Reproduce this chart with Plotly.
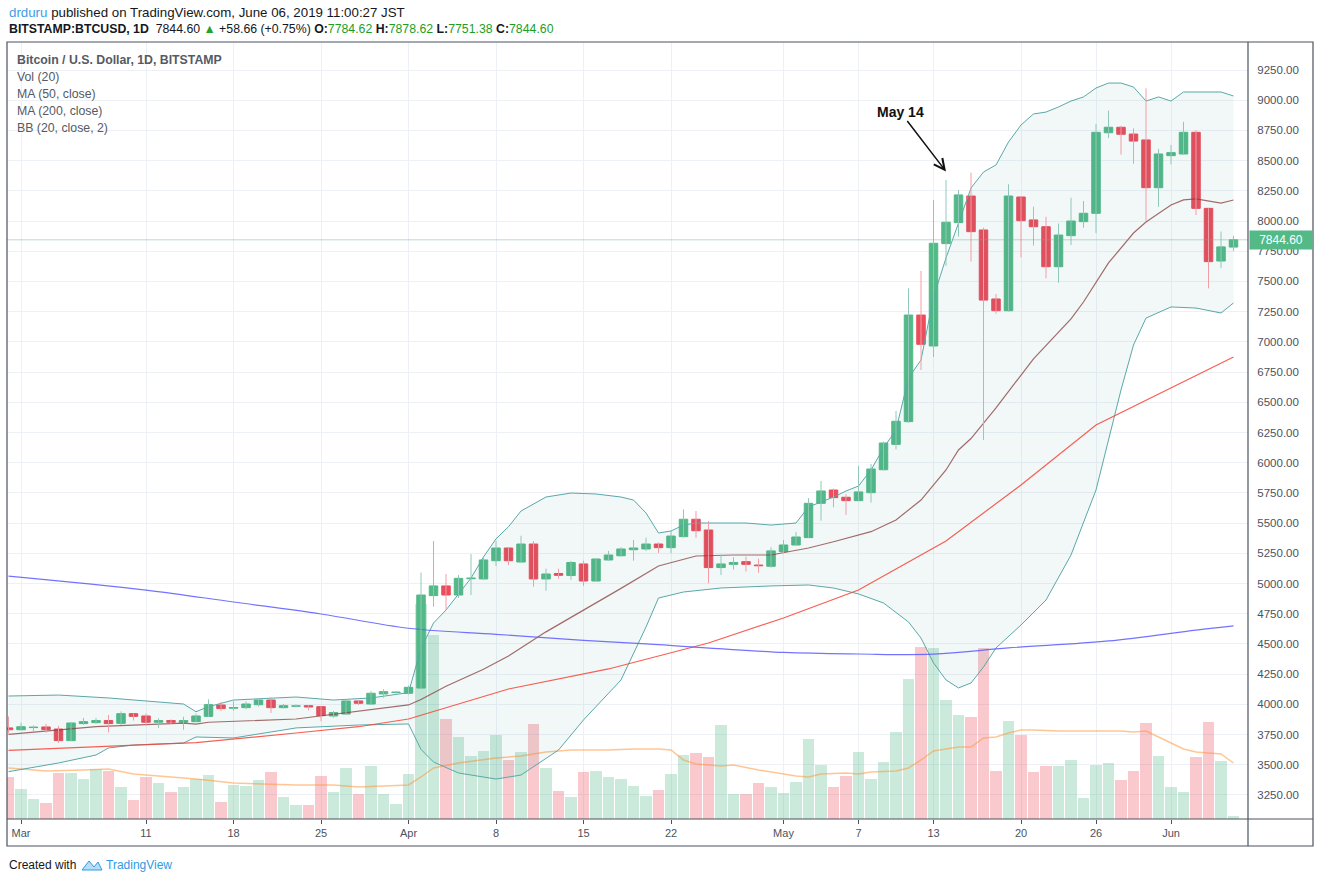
import plotly.graph_objects as go
import pandas as pd

# ---------------- data ----------------
dates = pd.date_range("2019-02-28", "2019-06-06", freq="D")

opens = [3805,
         3790, 3808, 3813, 3796, 3700, 3841, 3849, 3866, 3843, 3923, 3904, 3852, 3866, 3852, 3857, 3901,
         3995, 3968, 3973, 3997, 4036, 3973, 3984, 3989, 3981, 3904, 3920, 4028, 4003, 4086, 4098,
         4092, 4135, 4900, 4980, 4905, 5040, 5038, 5189, 5294, 5178, 5327, 5038, 5083, 5066, 5162,
         5021, 5195, 5230, 5280, 5286, 5327, 5297, 5388, 5532, 5443, 5132, 5159, 5181, 5153, 5143,
         5264, 5319, 5380, 5664, 5774, 5714, 5686, 5752, 5942, 6152, 6340, 7222, 6966, 7813, 7987,
         8207, 7926, 7355, 7258, 8199, 8009, 7953, 7622, 7879, 7995, 8064, 8731, 8776, 8720, 8671, 8276,
         8541, 8555, 8734, 8105, 7669, 7784.62]
highs = [3900,
         3848, 3826, 3838, 3822, 3850, 3888, 3888, 3912, 3942, 3925, 3923, 3885, 3876, 3898, 3923, 4042,
         4022, 4026, 4025, 4050, 4060, 4003, 4000, 3992, 3985, 3945, 4042, 4030, 4110, 4125, 4110,
         4155, 5090, 5352, 5079, 5070, 5244, 5210, 5352, 5300, 5395, 5352, 5123, 5123, 5188, 5188,
         5210, 5270, 5300, 5360, 5380, 5340, 5440, 5613, 5600, 5517, 5240, 5218, 5223, 5205, 5300,
         5360, 5427, 5707, 5849, 5785, 5739, 5973, 5990, 6175, 6428, 7443, 7587, 8174, 8340, 8257,
         8400, 7945, 7396, 8304, 8207, 8119, 8036, 7980, 8193, 8166, 8803, 8914, 8789, 8767, 9098, 8597,
         8629, 8821, 8753, 8105, 7913, 7878.62]
lows = [3760,
        3785, 3775, 3765, 3680, 3695, 3830, 3837, 3767, 3830, 3866, 3825, 3805, 3838, 3790, 3852, 3895,
        3944, 3948, 3960, 3982, 3929, 3965, 3975, 3950, 3860, 3890, 3912, 3995, 3995, 4055, 4080,
        4080, 4130, 4808, 4786, 4880, 4905, 5030, 5145, 5153, 5170, 4974, 4940, 5040, 5030, 4980,
        5015, 5190, 5222, 5189, 5270, 5253, 5250, 5380, 5378, 5002, 5070, 5115, 5100, 5090, 5132,
        5250, 5312, 5378, 5520, 5630, 5568, 5680, 5670, 5935, 6110, 6330, 6767, 6875, 7628, 7871,
        7664, 6188, 7233, 7250, 7700, 7797, 7526, 7489, 7802, 7945, 7899, 8687, 8550, 8474, 8003, 8117,
        8470, 8547, 8050, 7443, 7610, 7751.38]
closes = [3790,
          3815, 3812, 3791, 3700, 3846, 3857, 3866, 3841, 3923, 3901, 3852, 3866, 3852, 3866, 3904, 3998,
          3965, 3974, 4003, 4036, 3973, 3989, 3988, 3978, 3907, 3932, 4028, 4009, 4092, 4105, 4102,
          4141, 4905, 4980, 4905, 5043, 5046, 5195, 5294, 5189, 5327, 5038, 5079, 5068, 5174, 5021,
          5203, 5236, 5286, 5294, 5327, 5297, 5393, 5532, 5437, 5132, 5162, 5174, 5159, 5147, 5270,
          5319, 5385, 5664, 5766, 5711, 5686, 5758, 5948, 6163, 6343, 7222, 6980, 7816, 7990, 8216,
          7912, 7346, 7258, 8207, 8003, 7953, 7622, 7884, 8000, 8064, 8734, 8776, 8718, 8662, 8276, 8555,
          8566, 8734, 8105, 7664, 7785.94, 7844.60]
# volume, thousand BTC (relative scale)
volumes = [6.3,
           4.5, 3.0, 2.4, 6.9, 6.9, 6.0, 7.5, 7.2, 4.8, 2.85, 6.3, 5.4, 4.05, 4.8, 6.0, 6.6,
           2.55, 5.1, 4.95, 5.85, 7.05, 3.3, 2.1, 2.1, 6.45, 4.05, 7.65, 3.75, 7.95, 3.75, 2.25,
           6.75, 32.3, 27.6, 15.0, 12.3, 9.45, 10.2, 12.6, 8.85, 10.05, 14.25, 7.65, 4.2, 3.3, 7.05,
           7.2, 6.3, 6.0, 4.95, 3.45, 4.35, 6.75, 9.6, 9.9, 9.3, 14.1, 3.75, 3.75, 5.4, 4.8,
           3.9, 5.55, 12.0, 8.1, 4.8, 6.45, 10.05, 6.0, 8.55, 13.05, 21.0, 25.8, 25.65, 17.85, 15.6,
           15.3, 25.65, 7.2, 14.7, 12.6, 7.05, 7.95, 7.95, 8.85, 3.15, 8.1, 8.4, 5.85, 7.2, 14.4, 9.45,
           4.8, 4.05, 9.3, 14.55, 8.7, 0.45]

vol_ma_dates = ["2019-02-28", "2019-03-03", "2019-03-06", "2019-03-08", "2019-03-10", "2019-03-13",
                "2019-03-15", "2019-03-18", "2019-03-21", "2019-03-23", "2019-03-26", "2019-03-28",
                "2019-04-01", "2019-04-02", "2019-04-03", "2019-04-05", "2019-04-08", "2019-04-10",
                "2019-04-12", "2019-04-14", "2019-04-17", "2019-04-19", "2019-04-21", "2019-04-22",
                "2019-04-23", "2019-04-24", "2019-04-26", "2019-04-27", "2019-04-29", "2019-04-30",
                "2019-05-02", "2019-05-03", "2019-05-04", "2019-05-06", "2019-05-07", "2019-05-08",
                "2019-05-10", "2019-05-11", "2019-05-12", "2019-05-13", "2019-05-15", "2019-05-16",
                "2019-05-17", "2019-05-18", "2019-05-19", "2019-05-20", "2019-05-21", "2019-05-23",
                "2019-05-26", "2019-05-28", "2019-05-29", "2019-05-30", "2019-05-31", "2019-06-02",
                "2019-06-03", "2019-06-05", "2019-06-06"]
vol_ma = [7.65, 7.2, 7.35, 7.5, 6.75, 6.3, 6.0, 5.4, 5.25, 5.1, 5.1, 4.8,
          5.1, 6.3, 7.65, 8.4, 9.15, 9.45, 10.05, 10.35, 10.35, 10.5, 10.5, 10.35,
          8.85, 8.25, 7.95, 8.1, 7.35, 7.05, 6.45, 6.3, 6.75, 6.9, 6.75, 7.05,
          7.2, 7.65, 8.85, 10.2, 10.8, 10.8, 12.15, 12.3, 12.9, 13.35, 13.35, 13.2,
          13.2, 13.2, 13.05, 13.2, 12.3, 10.5, 10.05, 9.75, 8.4]

ma50_dates = ["2019-02-28", "2019-03-15", "2019-03-23", "2019-03-28", "2019-04-01", "2019-04-09",
              "2019-04-17", "2019-04-25", "2019-05-01", "2019-05-07", "2019-05-14", "2019-05-20",
              "2019-05-26", "2019-06-01", "2019-06-06"]
ma50 = [3620, 3683, 3763, 3815, 3879, 4127, 4293, 4508, 4715, 4946, 5352, 5816, 6312, 6618, 6875]

ma200_dates = ["2019-02-28", "2019-03-11", "2019-03-18", "2019-03-25", "2019-04-01", "2019-04-08",
               "2019-04-15", "2019-04-20", "2019-05-01", "2019-05-07", "2019-05-13", "2019-05-19",
               "2019-05-27", "2019-06-03", "2019-06-06"]
ma200 = [5062, 4946, 4847, 4748, 4630, 4580, 4530, 4500, 4430, 4417, 4415, 4467, 4525, 4615, 4650]

bb_mid_dates = ["2019-02-28", "2019-03-07", "2019-03-14", "2019-03-15", "2019-03-16", "2019-03-23",
                "2019-04-01", "2019-04-02", "2019-04-04", "2019-04-07", "2019-04-09", "2019-04-12",
                "2019-04-18", "2019-04-21", "2019-04-24", "2019-04-27", "2019-04-30", "2019-05-03",
                "2019-05-05", "2019-05-08", "2019-05-10", "2019-05-12", "2019-05-14", "2019-05-15",
                "2019-05-16", "2019-05-18", "2019-05-21", "2019-05-24", "2019-05-25", "2019-05-27",
                "2019-05-29", "2019-05-30", "2019-06-01", "2019-06-02", "2019-06-03", "2019-06-05",
                "2019-06-06"]
bb_mid = [3752, 3815, 3845, 3836, 3852, 3879, 3995, 4040, 4150, 4290, 4400, 4600, 4960, 5145,
          5228, 5236, 5236, 5294, 5346, 5429, 5526, 5691, 5940, 6105, 6200, 6453, 6860, 7190,
          7330, 7653, 7901, 7992, 8133, 8175, 8183, 8149, 8174]

bb_up_dates = ["2019-02-28", "2019-03-04", "2019-03-08", "2019-03-14", "2019-03-15", "2019-03-16",
               "2019-03-18", "2019-03-23", "2019-03-26", "2019-03-29", "2019-04-01", "2019-04-02",
               "2019-04-03", "2019-04-04", "2019-04-06", "2019-04-07", "2019-04-08", "2019-04-09",
               "2019-04-10", "2019-04-12", "2019-04-14", "2019-04-16", "2019-04-18", "2019-04-19",
               "2019-04-20", "2019-04-21", "2019-04-22", "2019-04-23", "2019-04-24", "2019-04-28",
               "2019-04-30", "2019-05-02", "2019-05-03", "2019-05-04", "2019-05-05", "2019-05-06",
               "2019-05-07", "2019-05-08", "2019-05-09", "2019-05-10", "2019-05-11", "2019-05-12",
               "2019-05-13", "2019-05-14", "2019-05-15", "2019-05-16", "2019-05-17", "2019-05-18",
               "2019-05-19", "2019-05-20", "2019-05-21", "2019-05-22", "2019-05-23", "2019-05-24",
               "2019-05-25", "2019-05-26", "2019-05-27", "2019-05-28", "2019-05-29", "2019-05-30",
               "2019-05-31", "2019-06-01", "2019-06-02", "2019-06-05", "2019-06-06"]
bb_up = [4069, 4077, 4053, 4003, 3939, 3981, 4036, 4061, 4036, 4053, 4097, 4463,
         4673, 4781, 5045, 5220, 5370, 5470, 5600, 5716, 5749, 5741, 5716, 5691,
         5584, 5418, 5435, 5484, 5501, 5501, 5484, 5501, 5634, 5675, 5716, 5766,
         5807, 5940, 6122, 6271, 6701, 6850, 7371, 7694, 7992, 8273, 8406, 8464,
         8654, 8795, 8886, 8902, 8944, 8993, 9027, 9101, 9142, 9142, 9109, 8993,
         9027, 8993, 9068, 9068, 9035]

bb_lo_dates = ["2019-02-28", "2019-03-04", "2019-03-07", "2019-03-08", "2019-03-10", "2019-03-14",
               "2019-03-15", "2019-03-18", "2019-03-22", "2019-03-23", "2019-03-28", "2019-04-01",
               "2019-04-02", "2019-04-03", "2019-04-05", "2019-04-08", "2019-04-10", "2019-04-13",
               "2019-04-15", "2019-04-18", "2019-04-20", "2019-04-21", "2019-04-23", "2019-04-26",
               "2019-04-30", "2019-05-03", "2019-05-05", "2019-05-07", "2019-05-09", "2019-05-11",
               "2019-05-12", "2019-05-13", "2019-05-14", "2019-05-15", "2019-05-16", "2019-05-17",
               "2019-05-18", "2019-05-19", "2019-05-20", "2019-05-22", "2019-05-24", "2019-05-26",
               "2019-05-28", "2019-05-29", "2019-05-30", "2019-06-01", "2019-06-03", "2019-06-05",
               "2019-06-06"]
bb_lo = [3443, 3515, 3581, 3639, 3664, 3680, 3730, 3722, 3788, 3805, 3829, 3838,
         3627, 3523, 3432, 3382, 3415, 3622, 3871, 4202, 4640, 4880, 4930, 4963,
         4980, 4988, 4963, 4914, 4839, 4682, 4549, 4343, 4202, 4136, 4177, 4309,
         4467, 4558, 4657, 4864, 5236, 5774, 6602, 6974, 7197, 7289, 7280, 7239,
         7322]

tick_dates = ["2019-03-01", "2019-03-11", "2019-03-18", "2019-03-25", "2019-04-01", "2019-04-08",
              "2019-04-15", "2019-04-22", "2019-05-01", "2019-05-07", "2019-05-13", "2019-05-20",
              "2019-05-26", "2019-06-01"]
tick_text = ["Mar", "11", "18", "25", "Apr", "8", "15", "22", "May", "7", "13", "20", "26", "Jun"]

# ---------------- styling ----------------
FONT = "Liberation Sans, Arial, sans-serif"
UP, DOWN = "#53b987", "#eb4d5c"
UP_WICK, DOWN_WICK = "#8fc8bb", "#f29ea7"
UP_VOL, DOWN_VOL = "rgba(83,185,135,0.30)", "rgba(235,77,92,0.30)"
GRID = "#edf1f5"
FRAME = "#4c525e"

W, H = 1320, 883
L, R, T, B = 7, 1248, 42, 819  # plot area in pixels


def px(x):
    return (x - L) / (R - L)


def py(y):
    return (B - y) / (B - T)


DAY = 86400000
is_up = [c >= o for o, c in zip(opens, closes)]

fig = go.Figure()

# volume (base axis, drawn underneath)
fig.add_trace(go.Bar(
    x=dates, y=volumes, width=0.9 * DAY,
    marker=dict(color=[UP_VOL if u else DOWN_VOL for u in is_up], line=dict(width=0)),
    yaxis="y", hoverinfo="skip"))
fig.add_trace(go.Scatter(
    x=pd.to_datetime(vol_ma_dates), y=vol_ma, mode="lines",
    line=dict(color="rgba(255,152,60,0.55)", width=1.5), yaxis="y", hoverinfo="skip"))

# Bollinger bands
fig.add_trace(go.Scatter(
    x=pd.to_datetime(bb_up_dates), y=bb_up, mode="lines",
    line=dict(color="#5aa8a8", width=1), yaxis="y2", hoverinfo="skip"))
fig.add_trace(go.Scatter(
    x=pd.to_datetime(bb_lo_dates), y=bb_lo, mode="lines", fill="tonexty",
    fillcolor="rgba(40,140,140,0.06)",
    line=dict(color="#5aa8a8", width=1), yaxis="y2", hoverinfo="skip"))
fig.add_trace(go.Scatter(
    x=pd.to_datetime(bb_mid_dates), y=bb_mid, mode="lines",
    line=dict(color="rgba(135,60,60,0.75)", width=1.2), yaxis="y2", hoverinfo="skip"))

# moving averages
fig.add_trace(go.Scatter(
    x=pd.to_datetime(ma50_dates), y=ma50, mode="lines",
    line=dict(color="rgba(244,67,54,0.85)", width=1.2), yaxis="y2", hoverinfo="skip"))
fig.add_trace(go.Scatter(
    x=pd.to_datetime(ma200_dates), y=ma200, mode="lines", line_shape="spline",
    line=dict(color="rgba(90,90,255,0.85)", width=1.2), yaxis="y2", hoverinfo="skip"))

# wicks
for want_up, col in ((True, UP_WICK), (False, DOWN_WICK)):
    wx, wy = [], []
    for d, hi, lo, u in zip(dates, highs, lows, is_up):
        if u == want_up:
            wx += [d, d, None]
            wy += [lo, hi, None]
    fig.add_trace(go.Scatter(x=wx, y=wy, mode="lines", line=dict(color=col, width=1),
                             yaxis="y2", hoverinfo="skip", connectgaps=False))

# candle bodies
body_cols = [UP if u else DOWN for u in is_up]
fig.add_trace(go.Bar(
    x=dates, y=[c - o for o, c in zip(opens, closes)], base=opens, width=0.68 * DAY,
    marker=dict(color=body_cols, line=dict(color=body_cols, width=1)),
    yaxis="y2", hoverinfo="skip"))

# ---------------- layout ----------------
x0 = pd.Timestamp("2019-03-01") - pd.Timedelta(days=1.12)
x1 = pd.Timestamp("2019-03-01") + pd.Timedelta(days=98.16)
y2_lo, y2_hi = 3051.3, 9481.7

last, prev = closes[-1], closes[-2]
chg = last - prev
pct = chg / prev * 100

shapes = [
    # last price line
    dict(type="line", xref="paper", yref="y2", x0=0, x1=1, y0=last, y1=last,
         line=dict(color="rgba(120,165,150,0.45)", width=1)),
    # frame
    dict(type="rect", xref="paper", yref="paper", x0=px(7), x1=px(1313), y0=py(846), y1=py(42),
         line=dict(color=FRAME, width=1.2)),
    dict(type="line", xref="paper", yref="paper", x0=1, x1=1, y0=py(846), y1=py(42),
         line=dict(color=FRAME, width=1.2)),
    dict(type="line", xref="paper", yref="paper", x0=0, x1=px(1313), y0=0, y1=0,
         line=dict(color=FRAME, width=1.2)),
]

ann = []
ann.append(dict(xref="paper", yref="paper", x=px(7), y=py(12), xanchor="left", yanchor="middle",
                showarrow=False, align="left",
                text="<span style='color:#3d9ee6'>drduru</span> published on TradingView.com, "
                     "June 06, 2019 11:00:27 JST",
                font=dict(family=FONT, size=13.3, color="#131722")))
ann.append(dict(xref="paper", yref="paper", x=px(7), y=py(29), xanchor="left", yanchor="middle",
                showarrow=False, align="left",
                text=(f"<b>BITSTAMP:BTCUSD, 1D</b>  {last:.2f} "
                      f"<span style='color:#22a32a'>▲</span> {chg:+.2f} ({pct:+.2f}%) "
                      f"<b>O:</b><span style='color:#1f9d1f'>{opens[-1]:.2f}</span> "
                      f"<b>H:</b><span style='color:#1f9d1f'>{highs[-1]:.2f}</span> "
                      f"<b>L:</b><span style='color:#1f9d1f'>{lows[-1]:.2f}</span> "
                      f"<b>C:</b><span style='color:#1f9d1f'>{closes[-1]:.2f}</span>"),
                font=dict(family=FONT, size=12.3, color="#131722")))

legend_lines = ["<b>Bitcoin / U.S. Dollar, 1D, BITSTAMP</b>", "Vol (20)", "MA (50, close)",
                "MA (200, close)", "BB (20, close, 2)"]
for i, t in enumerate(legend_lines):
    ann.append(dict(xref="paper", yref="paper", x=px(15), y=py(60 + 17 * i), xanchor="left",
                    yanchor="middle", showarrow=False, text=t,
                    font=dict(family=FONT, size=12.3, color="#555a64")))

# last price label
ann.append(dict(xref="paper", yref="y2", x=1, y=last, xanchor="left", yanchor="middle",
                xshift=1, showarrow=False, text=f"{last:.2f}", bgcolor=UP, borderpad=2,
                width=58, align="center", font=dict(family=FONT, size=12, color="white")))

# May 14 callout
ann.append(dict(xref="x", yref="y2", x="2019-05-14", y=8410, text="<b>May 14</b>",
                showarrow=True, arrowhead=5, arrowsize=1.4, arrowwidth=1.5, arrowcolor="#111",
                ax=-46, ay=-60, font=dict(family=FONT, size=14, color="#111")))

# footer
ann.append(dict(xref="paper", yref="paper", x=px(7), y=py(865), xanchor="left", yanchor="middle",
                showarrow=False, text="Created with",
                font=dict(family=FONT, size=12, color="#131722")))
ann.append(dict(xref="paper", yref="paper", x=px(104), y=py(865), xanchor="left", yanchor="middle",
                showarrow=False, text="TradingView",
                font=dict(family=FONT, size=12, color="#2e9be6")))

# small logo
shapes.append(dict(type="path", xref="paper", yref="paper",
                   path=(f"M {px(82)},{py(870)} L {px(89)},{py(861)} L {px(94)},{py(867)} "
                         f"L {px(98)},{py(862)} L {px(102)},{py(870)} Z"),
                   fillcolor="rgba(46,155,230,0.35)", line=dict(color="#2e9be6", width=1)))

fig.update_layout(
    width=W, height=H,
    margin=dict(l=L, r=W - R, t=T, b=H - B, pad=0),
    paper_bgcolor="white", plot_bgcolor="white",
    showlegend=False, barmode="overlay", bargap=0,
    font=dict(family=FONT, color="#4c525e"),
    xaxis=dict(type="date", range=[x0, x1], tickvals=pd.to_datetime(tick_dates), ticktext=tick_text,
               showgrid=True, gridcolor=GRID, gridwidth=1, zeroline=False, showline=False,
               ticks="outside", ticklen=4, tickcolor="#4c525e",
               tickfont=dict(family=FONT, size=11, color="#4c525e"), fixedrange=True),
    yaxis=dict(range=[0, 116.55], visible=False, showgrid=False, zeroline=False, fixedrange=True),
    yaxis2=dict(overlaying="y", side="right", range=[y2_lo, y2_hi], tick0=0, dtick=250,
                tickformat=".2f", showgrid=True, gridcolor=GRID, gridwidth=1, zeroline=False,
                showline=False, ticks="outside", ticklen=6, tickcolor="rgba(0,0,0,0)",
                tickfont=dict(family=FONT, size=11.5, color="#4c525e"), fixedrange=True),
    shapes=shapes, annotations=ann,
)

fig.write_html("out.html", config={"displayModeBar": False, "staticPlot": True},
               post_script="document.body.style.margin='0px';"
                           "document.body.style.overflow='hidden';")
